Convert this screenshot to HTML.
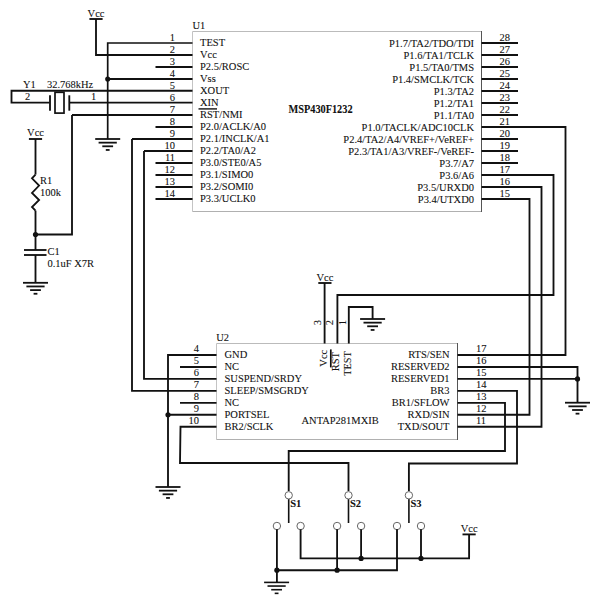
<!DOCTYPE html>
<html><head><meta charset="utf-8"><style>
html,body{margin:0;padding:0;background:#fff;width:600px;height:602px;overflow:hidden}
svg{display:block}
text{font-family:"Liberation Serif",serif;stroke:#000;stroke-width:0.08px}
</style></head><body>
<svg width="600" height="602" viewBox="0 0 600 602">
<line x1="192.5" y1="31.5" x2="481.5" y2="31.5" stroke="#bbb" stroke-width="1"/>
<line x1="192.5" y1="31.5" x2="192.5" y2="211.5" stroke="#c4c4c4" stroke-width="1"/>
<line x1="192.5" y1="211.5" x2="481.5" y2="211.5" stroke="#b0b0b0" stroke-width="1"/>
<line x1="481.5" y1="31.0" x2="481.5" y2="212.0" stroke="#555" stroke-width="1"/>
<text transform="translate(192.5 28.6) scale(0.9259 1)" text-anchor="start" font-size="11.34" font-weight="normal" fill="#111" >U1</text>
<text transform="translate(288.5 112.8) scale(0.8696 1)" text-anchor="start" font-size="11.85" font-weight="bold" fill="#111" >MSP430F1232</text>
<text transform="translate(175 40.5) scale(0.9259 1)" text-anchor="end" font-size="11.34" font-weight="normal" fill="#111" >1</text>
<text transform="translate(200 46.4) scale(0.9259 1)" text-anchor="start" font-size="11.34" font-weight="normal" fill="#111" >TEST</text>
<text transform="translate(175 52.5) scale(0.9259 1)" text-anchor="end" font-size="11.34" font-weight="normal" fill="#111" >2</text>
<text transform="translate(200 58.4) scale(0.9259 1)" text-anchor="start" font-size="11.34" font-weight="normal" fill="#111" >Vcc</text>
<text transform="translate(175 64.5) scale(0.9259 1)" text-anchor="end" font-size="11.34" font-weight="normal" fill="#111" >3</text>
<text transform="translate(200 70.4) scale(0.9259 1)" text-anchor="start" font-size="11.34" font-weight="normal" fill="#111" >P2.5/ROSC</text>
<text transform="translate(175 76.5) scale(0.9259 1)" text-anchor="end" font-size="11.34" font-weight="normal" fill="#111" >4</text>
<text transform="translate(200 82.4) scale(0.9259 1)" text-anchor="start" font-size="11.34" font-weight="normal" fill="#111" >Vss</text>
<text transform="translate(175 88.5) scale(0.9259 1)" text-anchor="end" font-size="11.34" font-weight="normal" fill="#111" >5</text>
<text transform="translate(200 94.4) scale(0.9259 1)" text-anchor="start" font-size="11.34" font-weight="normal" fill="#111" >XOUT</text>
<text transform="translate(175 100.5) scale(0.9259 1)" text-anchor="end" font-size="11.34" font-weight="normal" fill="#111" >6</text>
<text transform="translate(200 106.4) scale(0.9259 1)" text-anchor="start" font-size="11.34" font-weight="normal" fill="#111" >XIN</text>
<text transform="translate(175 112.5) scale(0.9259 1)" text-anchor="end" font-size="11.34" font-weight="normal" fill="#111" >7</text>
<text transform="translate(200 118.4) scale(0.9259 1)" text-anchor="start" font-size="11.34" font-weight="normal" fill="#111" >RST/NMI</text>
<text transform="translate(175 124.5) scale(0.9259 1)" text-anchor="end" font-size="11.34" font-weight="normal" fill="#111" >8</text>
<text transform="translate(200 130.4) scale(0.9259 1)" text-anchor="start" font-size="11.34" font-weight="normal" fill="#111" >P2.0/ACLK/A0</text>
<text transform="translate(175 136.5) scale(0.9259 1)" text-anchor="end" font-size="11.34" font-weight="normal" fill="#111" >9</text>
<text transform="translate(200 142.4) scale(0.9259 1)" text-anchor="start" font-size="11.34" font-weight="normal" fill="#111" >P2.1/INCLK/A1</text>
<text transform="translate(175 148.5) scale(0.9259 1)" text-anchor="end" font-size="11.34" font-weight="normal" fill="#111" >10</text>
<text transform="translate(200 154.4) scale(0.9259 1)" text-anchor="start" font-size="11.34" font-weight="normal" fill="#111" >P2.2/TA0/A2</text>
<text transform="translate(175 160.5) scale(0.9259 1)" text-anchor="end" font-size="11.34" font-weight="normal" fill="#111" >11</text>
<text transform="translate(200 166.4) scale(0.9259 1)" text-anchor="start" font-size="11.34" font-weight="normal" fill="#111" >P3.0/STE0/A5</text>
<text transform="translate(175 172.5) scale(0.9259 1)" text-anchor="end" font-size="11.34" font-weight="normal" fill="#111" >12</text>
<text transform="translate(200 178.4) scale(0.9259 1)" text-anchor="start" font-size="11.34" font-weight="normal" fill="#111" >P3.1/SIMO0</text>
<text transform="translate(175 184.5) scale(0.9259 1)" text-anchor="end" font-size="11.34" font-weight="normal" fill="#111" >13</text>
<text transform="translate(200 190.4) scale(0.9259 1)" text-anchor="start" font-size="11.34" font-weight="normal" fill="#111" >P3.2/SOMI0</text>
<text transform="translate(175 196.5) scale(0.9259 1)" text-anchor="end" font-size="11.34" font-weight="normal" fill="#111" >14</text>
<text transform="translate(200 202.4) scale(0.9259 1)" text-anchor="start" font-size="11.34" font-weight="normal" fill="#111" >P3.3/UCLK0</text>
<line x1="198.5" y1="108.9" x2="217" y2="108.9" stroke="#222" stroke-width="1.5"/>
<text transform="translate(499.5 40.6) scale(0.9259 1)" text-anchor="start" font-size="11.34" font-weight="normal" fill="#111" >28</text>
<text transform="translate(474 46.8) scale(0.9259 1)" text-anchor="end" font-size="11.34" font-weight="normal" fill="#111" >P1.7/TA2/TDO/TDI</text>
<text transform="translate(499.5 52.6) scale(0.9259 1)" text-anchor="start" font-size="11.34" font-weight="normal" fill="#111" >27</text>
<text transform="translate(474 58.8) scale(0.9259 1)" text-anchor="end" font-size="11.34" font-weight="normal" fill="#111" >P1.6/TA1/TCLK</text>
<text transform="translate(499.5 64.6) scale(0.9259 1)" text-anchor="start" font-size="11.34" font-weight="normal" fill="#111" >26</text>
<text transform="translate(474 70.8) scale(0.9259 1)" text-anchor="end" font-size="11.34" font-weight="normal" fill="#111" >P1.5/TA0/TMS</text>
<text transform="translate(499.5 76.6) scale(0.9259 1)" text-anchor="start" font-size="11.34" font-weight="normal" fill="#111" >25</text>
<text transform="translate(474 82.8) scale(0.9259 1)" text-anchor="end" font-size="11.34" font-weight="normal" fill="#111" >P1.4/SMCLK/TCK</text>
<text transform="translate(499.5 88.6) scale(0.9259 1)" text-anchor="start" font-size="11.34" font-weight="normal" fill="#111" >24</text>
<text transform="translate(474 94.8) scale(0.9259 1)" text-anchor="end" font-size="11.34" font-weight="normal" fill="#111" >P1.3/TA2</text>
<text transform="translate(499.5 100.6) scale(0.9259 1)" text-anchor="start" font-size="11.34" font-weight="normal" fill="#111" >23</text>
<text transform="translate(474 106.8) scale(0.9259 1)" text-anchor="end" font-size="11.34" font-weight="normal" fill="#111" >P1.2/TA1</text>
<text transform="translate(499.5 112.6) scale(0.9259 1)" text-anchor="start" font-size="11.34" font-weight="normal" fill="#111" >22</text>
<text transform="translate(474 118.8) scale(0.9259 1)" text-anchor="end" font-size="11.34" font-weight="normal" fill="#111" >P1.1/TA0</text>
<text transform="translate(499.5 124.6) scale(0.9259 1)" text-anchor="start" font-size="11.34" font-weight="normal" fill="#111" >21</text>
<text transform="translate(474 130.8) scale(0.9259 1)" text-anchor="end" font-size="11.34" font-weight="normal" fill="#111" >P1.0/TACLK/ADC10CLK</text>
<text transform="translate(499.5 136.6) scale(0.9259 1)" text-anchor="start" font-size="11.34" font-weight="normal" fill="#111" >20</text>
<text transform="translate(474 142.8) scale(0.9259 1)" text-anchor="end" font-size="11.34" font-weight="normal" fill="#111" >P2.4/TA2/A4/VREF+/VeREF+</text>
<text transform="translate(499.5 148.6) scale(0.9259 1)" text-anchor="start" font-size="11.34" font-weight="normal" fill="#111" >19</text>
<text transform="translate(474 154.8) scale(0.9259 1)" text-anchor="end" font-size="11.34" font-weight="normal" fill="#111" >P2.3/TA1/A3/VREF-/VeREF-</text>
<text transform="translate(499.5 160.6) scale(0.9259 1)" text-anchor="start" font-size="11.34" font-weight="normal" fill="#111" >18</text>
<text transform="translate(474 166.8) scale(0.9259 1)" text-anchor="end" font-size="11.34" font-weight="normal" fill="#111" >P3.7/A7</text>
<text transform="translate(499.5 172.6) scale(0.9259 1)" text-anchor="start" font-size="11.34" font-weight="normal" fill="#111" >17</text>
<text transform="translate(474 178.8) scale(0.9259 1)" text-anchor="end" font-size="11.34" font-weight="normal" fill="#111" >P3.6/A6</text>
<text transform="translate(499.5 184.6) scale(0.9259 1)" text-anchor="start" font-size="11.34" font-weight="normal" fill="#111" >16</text>
<text transform="translate(474 190.8) scale(0.9259 1)" text-anchor="end" font-size="11.34" font-weight="normal" fill="#111" >P3.5/URXD0</text>
<text transform="translate(499.5 196.6) scale(0.9259 1)" text-anchor="start" font-size="11.34" font-weight="normal" fill="#111" >15</text>
<text transform="translate(474 202.8) scale(0.9259 1)" text-anchor="end" font-size="11.34" font-weight="normal" fill="#111" >P3.4/UTXD0</text>
<polyline points="107.7,139 107.7,43 192.5,43" fill="none" stroke="#111" stroke-width="1.7" stroke-linejoin="miter"/>
<polyline points="96,19 96,55 192.5,55" fill="none" stroke="#111" stroke-width="1.85" stroke-linejoin="miter"/>
<line x1="155.5" y1="67" x2="192.5" y2="67" stroke="#111" stroke-width="1.85"/>
<line x1="107.7" y1="79" x2="192.5" y2="79" stroke="#111" stroke-width="1.85"/>
<line x1="69.3" y1="102.6" x2="192.5" y2="102.6" stroke="#111" stroke-width="1.85"/>
<line x1="72" y1="115" x2="192.5" y2="115" stroke="#111" stroke-width="1.85"/>
<line x1="155.5" y1="127" x2="192.5" y2="127" stroke="#111" stroke-width="1.85"/>
<line x1="132" y1="139" x2="192.5" y2="139" stroke="#111" stroke-width="1.85"/>
<line x1="144" y1="151" x2="192.5" y2="151" stroke="#111" stroke-width="1.85"/>
<line x1="155.5" y1="163" x2="192.5" y2="163" stroke="#111" stroke-width="1.85"/>
<line x1="155.5" y1="175" x2="192.5" y2="175" stroke="#111" stroke-width="1.85"/>
<line x1="155.5" y1="187" x2="192.5" y2="187" stroke="#111" stroke-width="1.85"/>
<line x1="155.5" y1="199" x2="192.5" y2="199" stroke="#111" stroke-width="1.85"/>
<line x1="481.5" y1="43" x2="518" y2="43" stroke="#111" stroke-width="1.85"/>
<line x1="481.5" y1="55" x2="518" y2="55" stroke="#111" stroke-width="1.85"/>
<line x1="481.5" y1="67" x2="518" y2="67" stroke="#111" stroke-width="1.85"/>
<line x1="481.5" y1="79" x2="518" y2="79" stroke="#111" stroke-width="1.85"/>
<line x1="481.5" y1="91" x2="518" y2="91" stroke="#111" stroke-width="1.85"/>
<line x1="481.5" y1="103" x2="518" y2="103" stroke="#111" stroke-width="1.85"/>
<line x1="481.5" y1="115" x2="518" y2="115" stroke="#111" stroke-width="1.85"/>
<line x1="481.5" y1="139" x2="518" y2="139" stroke="#111" stroke-width="1.85"/>
<line x1="481.5" y1="151" x2="518" y2="151" stroke="#111" stroke-width="1.85"/>
<line x1="481.5" y1="163" x2="518" y2="163" stroke="#111" stroke-width="1.85"/>
<line x1="89.4" y1="19" x2="102.6" y2="19" stroke="#111" stroke-width="1.85"/>
<text transform="translate(96 17) scale(0.9259 1)" text-anchor="middle" font-size="11.34" font-weight="normal" fill="#111" >Vcc</text>
<circle cx="107.7" cy="79" r="2.55" fill="#111"/>
<line x1="95.2" y1="139" x2="120.2" y2="139" stroke="#111" stroke-width="1.8"/>
<line x1="98.60000000000001" y1="142.65" x2="116.8" y2="142.65" stroke="#111" stroke-width="1.8"/>
<line x1="102.3" y1="146.3" x2="113.10000000000001" y2="146.3" stroke="#111" stroke-width="1.8"/>
<line x1="105.8" y1="149.95" x2="109.60000000000001" y2="149.95" stroke="#111" stroke-width="1.8"/>
<polyline points="49.6,102.6 11.5,102.6 11.5,90.7 192.5,90.7" fill="none" stroke="#111" stroke-width="1.85" stroke-linejoin="miter"/>
<line x1="50" y1="95.3" x2="50" y2="110.7" stroke="#111" stroke-width="1.85"/>
<line x1="69.3" y1="95.3" x2="69.3" y2="110.7" stroke="#111" stroke-width="1.85"/>
<rect x="55" y="92.3" width="9" height="20.8" fill="none" stroke="#111" stroke-width="1.7"/>
<text transform="translate(23 88.4) scale(0.9259 1)" text-anchor="start" font-size="11.34" font-weight="normal" fill="#111" >Y1</text>
<text transform="translate(47 88.4) scale(0.9259 1)" text-anchor="start" font-size="11.34" font-weight="normal" fill="#111" >32.768kHz</text>
<text transform="translate(25 100.4) scale(0.9259 1)" text-anchor="start" font-size="11.34" font-weight="normal" fill="#111" >2</text>
<text transform="translate(91 100.4) scale(0.9259 1)" text-anchor="start" font-size="11.34" font-weight="normal" fill="#111" >1</text>
<polyline points="72,115 72,234.5 35.5,234.5" fill="none" stroke="#111" stroke-width="1.85" stroke-linejoin="miter"/>
<circle cx="35.5" cy="234.5" r="2.6" fill="#111"/>
<line x1="28.9" y1="139" x2="42.1" y2="139" stroke="#111" stroke-width="1.85"/>
<text transform="translate(35.5 136.1) scale(0.9259 1)" text-anchor="middle" font-size="11.34" font-weight="normal" fill="#111" >Vcc</text>
<line x1="35.5" y1="139" x2="35.5" y2="174.6" stroke="#111" stroke-width="1.85"/>
<polyline points="35.5,174.6 32,178.3 39.1,185.6 32,193 39.1,200 32,207 35.5,210.6" fill="none" stroke="#111" stroke-width="1.8" stroke-linejoin="miter"/>
<line x1="35.5" y1="210.6" x2="35.5" y2="250" stroke="#111" stroke-width="1.85"/>
<text transform="translate(40 184) scale(0.9259 1)" text-anchor="start" font-size="11.34" font-weight="normal" fill="#111" >R1</text>
<text transform="translate(40 196) scale(0.9259 1)" text-anchor="start" font-size="11.34" font-weight="normal" fill="#111" >100k</text>
<line x1="24" y1="250" x2="46.5" y2="250" stroke="#111" stroke-width="1.85"/>
<line x1="24" y1="255" x2="46.5" y2="255" stroke="#111" stroke-width="1.85"/>
<line x1="35.5" y1="255" x2="35.5" y2="282.8" stroke="#111" stroke-width="1.85"/>
<line x1="23.0" y1="282.8" x2="48.0" y2="282.8" stroke="#111" stroke-width="1.8"/>
<line x1="26.4" y1="286.45" x2="44.6" y2="286.45" stroke="#111" stroke-width="1.8"/>
<line x1="30.1" y1="290.1" x2="40.9" y2="290.1" stroke="#111" stroke-width="1.8"/>
<line x1="33.6" y1="293.75" x2="37.4" y2="293.75" stroke="#111" stroke-width="1.8"/>
<text transform="translate(47.5 255) scale(0.9259 1)" text-anchor="start" font-size="11.34" font-weight="normal" fill="#111" >C1</text>
<text transform="translate(47.5 267) scale(0.9259 1)" text-anchor="start" font-size="11.34" font-weight="normal" fill="#111" >0.1uF X7R</text>
<line x1="216.5" y1="343.5" x2="457.5" y2="343.5" stroke="#bbb" stroke-width="1"/>
<line x1="216.5" y1="343.5" x2="216.5" y2="439.5" stroke="#c4c4c4" stroke-width="1"/>
<line x1="216.5" y1="439.5" x2="457.5" y2="439.5" stroke="#b0b0b0" stroke-width="1"/>
<line x1="457.5" y1="343.0" x2="457.5" y2="440.0" stroke="#555" stroke-width="1"/>
<text transform="translate(216.3 340.8) scale(0.9259 1)" text-anchor="start" font-size="11.34" font-weight="normal" fill="#111" >U2</text>
<text transform="translate(301.5 424.3) scale(0.9259 1)" text-anchor="start" font-size="11.34" font-weight="normal" fill="#111" >ANTAP281MXIB</text>
<text transform="translate(199 352.2) scale(0.9259 1)" text-anchor="end" font-size="11.34" font-weight="normal" fill="#111" >4</text>
<text transform="translate(224.5 358.3) scale(0.9259 1)" text-anchor="start" font-size="11.34" font-weight="normal" fill="#111" >GND</text>
<text transform="translate(199 364.15) scale(0.9259 1)" text-anchor="end" font-size="11.34" font-weight="normal" fill="#111" >5</text>
<text transform="translate(224.5 370.25) scale(0.9259 1)" text-anchor="start" font-size="11.34" font-weight="normal" fill="#111" >NC</text>
<text transform="translate(199 376.09999999999997) scale(0.9259 1)" text-anchor="end" font-size="11.34" font-weight="normal" fill="#111" >6</text>
<text transform="translate(224.5 382.2) scale(0.9259 1)" text-anchor="start" font-size="11.34" font-weight="normal" fill="#111" >SUSPEND/SRDY</text>
<text transform="translate(199 388.05) scale(0.9259 1)" text-anchor="end" font-size="11.34" font-weight="normal" fill="#111" >7</text>
<text transform="translate(224.5 394.15000000000003) scale(0.9259 1)" text-anchor="start" font-size="11.34" font-weight="normal" fill="#111" >SLEEP/SMSGRDY</text>
<text transform="translate(199 400.0) scale(0.9259 1)" text-anchor="end" font-size="11.34" font-weight="normal" fill="#111" >8</text>
<text transform="translate(224.5 406.1) scale(0.9259 1)" text-anchor="start" font-size="11.34" font-weight="normal" fill="#111" >NC</text>
<text transform="translate(199 411.95) scale(0.9259 1)" text-anchor="end" font-size="11.34" font-weight="normal" fill="#111" >9</text>
<text transform="translate(224.5 418.05) scale(0.9259 1)" text-anchor="start" font-size="11.34" font-weight="normal" fill="#111" >PORTSEL</text>
<text transform="translate(199 423.9) scale(0.9259 1)" text-anchor="end" font-size="11.34" font-weight="normal" fill="#111" >10</text>
<text transform="translate(224.5 430.0) scale(0.9259 1)" text-anchor="start" font-size="11.34" font-weight="normal" fill="#111" >BR2/SCLK</text>
<text transform="translate(476 352.4) scale(0.9259 1)" text-anchor="start" font-size="11.34" font-weight="normal" fill="#111" >17</text>
<text transform="translate(449.5 358.3) scale(0.9259 1)" text-anchor="end" font-size="11.34" font-weight="normal" fill="#111" >RTS/SEN</text>
<text transform="translate(476 364.34999999999997) scale(0.9259 1)" text-anchor="start" font-size="11.34" font-weight="normal" fill="#111" >16</text>
<text transform="translate(449.5 370.25) scale(0.9259 1)" text-anchor="end" font-size="11.34" font-weight="normal" fill="#111" >RESERVED2</text>
<text transform="translate(476 376.29999999999995) scale(0.9259 1)" text-anchor="start" font-size="11.34" font-weight="normal" fill="#111" >15</text>
<text transform="translate(449.5 382.2) scale(0.9259 1)" text-anchor="end" font-size="11.34" font-weight="normal" fill="#111" >RESERVED1</text>
<text transform="translate(476 388.25) scale(0.9259 1)" text-anchor="start" font-size="11.34" font-weight="normal" fill="#111" >14</text>
<text transform="translate(449.5 394.15000000000003) scale(0.9259 1)" text-anchor="end" font-size="11.34" font-weight="normal" fill="#111" >BR3</text>
<text transform="translate(476 400.2) scale(0.9259 1)" text-anchor="start" font-size="11.34" font-weight="normal" fill="#111" >13</text>
<text transform="translate(449.5 406.1) scale(0.9259 1)" text-anchor="end" font-size="11.34" font-weight="normal" fill="#111" >BR1/SFLOW</text>
<text transform="translate(476 412.15) scale(0.9259 1)" text-anchor="start" font-size="11.34" font-weight="normal" fill="#111" >12</text>
<text transform="translate(449.5 418.05) scale(0.9259 1)" text-anchor="end" font-size="11.34" font-weight="normal" fill="#111" >RXD/SIN</text>
<text transform="translate(476 424.09999999999997) scale(0.9259 1)" text-anchor="start" font-size="11.34" font-weight="normal" fill="#111" >11</text>
<text transform="translate(449.5 430.0) scale(0.9259 1)" text-anchor="end" font-size="11.34" font-weight="normal" fill="#111" >TXD/SOUT</text>
<polyline points="168,487 168,355.0 216.5,355.0" fill="none" stroke="#111" stroke-width="1.85" stroke-linejoin="miter"/>
<line x1="180" y1="366.95" x2="216.5" y2="366.95" stroke="#111" stroke-width="1.85"/>
<polyline points="144,151 144,378.9 216.5,378.9" fill="none" stroke="#111" stroke-width="1.85" stroke-linejoin="miter"/>
<polyline points="132,139 132,390.85 216.5,390.85" fill="none" stroke="#111" stroke-width="1.85" stroke-linejoin="miter"/>
<line x1="180" y1="402.8" x2="216.5" y2="402.8" stroke="#111" stroke-width="1.85"/>
<line x1="168" y1="414.75" x2="216.5" y2="414.75" stroke="#111" stroke-width="1.85"/>
<circle cx="168" cy="414.75" r="2.6" fill="#111"/>
<line x1="155.5" y1="487" x2="180.5" y2="487" stroke="#111" stroke-width="1.8"/>
<line x1="158.9" y1="490.65" x2="177.1" y2="490.65" stroke="#111" stroke-width="1.8"/>
<line x1="162.6" y1="494.3" x2="173.4" y2="494.3" stroke="#111" stroke-width="1.8"/>
<line x1="166.1" y1="497.95" x2="169.9" y2="497.95" stroke="#111" stroke-width="1.8"/>
<polyline points="216.5,426.7 180.5,426.7 180,463 348.5,463 348.5,491" fill="none" stroke="#111" stroke-width="1.85" stroke-linejoin="miter"/>
<polyline points="481.5,127 565.5,127 565.5,355.0 457.5,355.0" fill="none" stroke="#111" stroke-width="1.85" stroke-linejoin="miter"/>
<polyline points="457.5,366.95 577.5,366.95 577.5,402.7" fill="none" stroke="#111" stroke-width="1.85" stroke-linejoin="miter"/>
<line x1="457.5" y1="378.9" x2="577.5" y2="378.9" stroke="#111" stroke-width="1.85"/>
<circle cx="577.5" cy="378.9" r="2.6" fill="#111"/>
<line x1="565.0" y1="402.7" x2="590.0" y2="402.7" stroke="#111" stroke-width="1.8"/>
<line x1="568.4" y1="406.34999999999997" x2="586.6" y2="406.34999999999997" stroke="#111" stroke-width="1.8"/>
<line x1="572.1" y1="410.0" x2="582.9" y2="410.0" stroke="#111" stroke-width="1.8"/>
<line x1="575.6" y1="413.65" x2="579.4" y2="413.65" stroke="#111" stroke-width="1.8"/>
<polyline points="457.5,390.85 517,390.85 517,463.5 408.9,463.5 408.9,491" fill="none" stroke="#111" stroke-width="1.85" stroke-linejoin="miter"/>
<polyline points="457.5,402.8 505,402.8 505,451 288.7,451 288.7,491" fill="none" stroke="#111" stroke-width="1.85" stroke-linejoin="miter"/>
<polyline points="481.5,199 529.5,199 529.5,414.75 457.5,414.75" fill="none" stroke="#111" stroke-width="1.85" stroke-linejoin="miter"/>
<polyline points="481.5,187 541.5,187 541.5,426.7 457.5,426.7" fill="none" stroke="#111" stroke-width="1.85" stroke-linejoin="miter"/>
<polyline points="481.5,175 553.5,175 553.5,295 337.4,295 337.4,343.5" fill="none" stroke="#111" stroke-width="1.85" stroke-linejoin="miter"/>
<line x1="318.29999999999995" y1="283" x2="331.5" y2="283" stroke="#111" stroke-width="1.85"/>
<text transform="translate(324.9 280.6) scale(0.9259 1)" text-anchor="middle" font-size="11.34" font-weight="normal" fill="#111" >Vcc</text>
<line x1="324.6" y1="283" x2="324.6" y2="343.5" stroke="#111" stroke-width="1.85"/>
<polyline points="348.8,343.5 348.8,307 372.6,307 372.6,319" fill="none" stroke="#111" stroke-width="1.85" stroke-linejoin="miter"/>
<line x1="360.1" y1="319" x2="385.1" y2="319" stroke="#111" stroke-width="1.8"/>
<line x1="363.5" y1="322.65" x2="381.70000000000005" y2="322.65" stroke="#111" stroke-width="1.8"/>
<line x1="367.20000000000005" y1="326.3" x2="378.0" y2="326.3" stroke="#111" stroke-width="1.8"/>
<line x1="370.70000000000005" y1="329.95" x2="374.5" y2="329.95" stroke="#111" stroke-width="1.8"/>
<text transform="translate(320.8 322.6) rotate(-90) scale(0.9259 1)" text-anchor="middle" font-size="11.34" fill="#111">3</text>
<text transform="translate(333.3 322.6) rotate(-90) scale(0.9259 1)" text-anchor="middle" font-size="11.34" fill="#111">2</text>
<text transform="translate(345.8 322.6) rotate(-90) scale(0.9259 1)" text-anchor="middle" font-size="11.34" fill="#111">1</text>
<text transform="translate(327.3 349.8) rotate(-90) scale(0.9259 1)" text-anchor="end" font-size="11.34" fill="#111">Vcc</text>
<text transform="translate(339.4 352) rotate(-90) scale(0.9259 1)" text-anchor="end" font-size="11.34" fill="#111">RST</text>
<text transform="translate(351.3 351.2) rotate(-90) scale(0.9259 1)" text-anchor="end" font-size="11.12" fill="#111">TEST</text>
<line x1="330.8" y1="349.4" x2="330.8" y2="367.4" stroke="#111" stroke-width="1.7"/>
<line x1="288.7" y1="498" x2="288.7" y2="523" stroke="#111" stroke-width="1.6"/>
<circle cx="288.7" cy="495.3" r="3.7" fill="#fff" stroke="#666" stroke-width="1"/>
<circle cx="276.9" cy="526" r="3.7" fill="#fff" stroke="#666" stroke-width="1"/>
<circle cx="300.6" cy="526" r="3.7" fill="#fff" stroke="#666" stroke-width="1"/>
<text transform="translate(290.2 507) scale(0.9259 1)" text-anchor="start" font-size="11.34" font-weight="bold" fill="#111" >S1</text>
<line x1="348.5" y1="498" x2="348.5" y2="523" stroke="#111" stroke-width="1.6"/>
<circle cx="348.5" cy="495.3" r="3.7" fill="#fff" stroke="#666" stroke-width="1"/>
<circle cx="337.1" cy="526" r="3.7" fill="#fff" stroke="#666" stroke-width="1"/>
<circle cx="361.1" cy="526" r="3.7" fill="#fff" stroke="#666" stroke-width="1"/>
<text transform="translate(350.0 507) scale(0.9259 1)" text-anchor="start" font-size="11.34" font-weight="bold" fill="#111" >S2</text>
<line x1="408.9" y1="498" x2="408.9" y2="523" stroke="#111" stroke-width="1.6"/>
<circle cx="408.9" cy="495.3" r="3.7" fill="#fff" stroke="#666" stroke-width="1"/>
<circle cx="397" cy="526" r="3.7" fill="#fff" stroke="#666" stroke-width="1"/>
<circle cx="421" cy="526" r="3.7" fill="#fff" stroke="#666" stroke-width="1"/>
<text transform="translate(410.4 507) scale(0.9259 1)" text-anchor="start" font-size="11.34" font-weight="bold" fill="#111" >S3</text>
<line x1="276.9" y1="529.3" x2="276.9" y2="582.4" stroke="#111" stroke-width="1.85"/>
<polyline points="300.6,529.3 300.6,558.4 469.1,558.4 469.1,534.4" fill="none" stroke="#111" stroke-width="1.85" stroke-linejoin="miter"/>
<line x1="337.1" y1="529.3" x2="337.1" y2="570.2" stroke="#111" stroke-width="1.85"/>
<line x1="361.1" y1="529.3" x2="361.1" y2="558.4" stroke="#111" stroke-width="1.85"/>
<polyline points="397,529.3 397,570.2 276.9,570.2" fill="none" stroke="#111" stroke-width="1.85" stroke-linejoin="miter"/>
<line x1="421" y1="529.3" x2="421" y2="558.4" stroke="#111" stroke-width="1.85"/>
<circle cx="276.9" cy="570.2" r="2.6" fill="#111"/>
<circle cx="337.1" cy="570.2" r="2.6" fill="#111"/>
<circle cx="361.1" cy="558.4" r="2.6" fill="#111"/>
<circle cx="421" cy="558.4" r="2.6" fill="#111"/>
<line x1="462.5" y1="534.4" x2="475.70000000000005" y2="534.4" stroke="#111" stroke-width="1.85"/>
<text transform="translate(469.1 532.4) scale(0.9259 1)" text-anchor="middle" font-size="11.34" font-weight="normal" fill="#111" >Vcc</text>
<line x1="264.1" y1="582.4" x2="289.1" y2="582.4" stroke="#111" stroke-width="1.6"/>
<line x1="267.5" y1="586.05" x2="285.70000000000005" y2="586.05" stroke="#111" stroke-width="1.6"/>
<line x1="271.20000000000005" y1="589.6999999999999" x2="282.0" y2="589.6999999999999" stroke="#111" stroke-width="1.6"/>
<line x1="274.70000000000005" y1="593.35" x2="278.5" y2="593.35" stroke="#111" stroke-width="1.6"/>
</svg>
</body></html>
